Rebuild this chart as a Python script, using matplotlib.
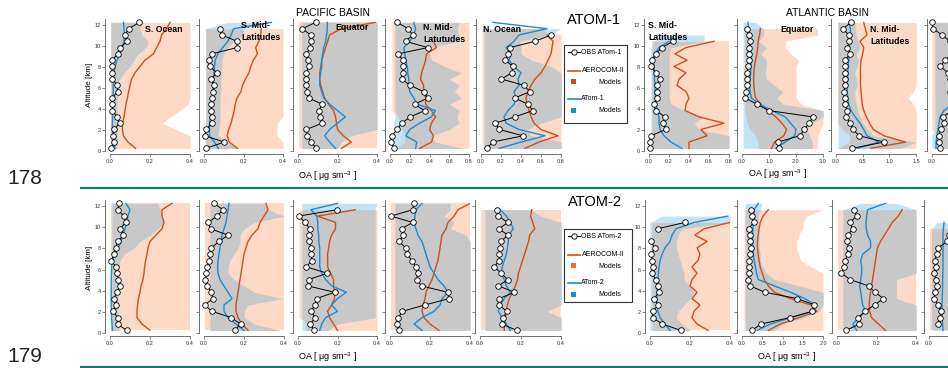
import matplotlib
matplotlib.use("Agg")
import matplotlib.pyplot as plt
from matplotlib.patches import Rectangle
from matplotlib.ticker import FormatStrFormatter
import numpy as np

plt.rcParams['font.family'] = ['Liberation Sans', 'DejaVu Sans']
plt.rcParams['mathtext.fontset'] = 'custom'
plt.rcParams['mathtext.rm'] = 'Liberation Sans'
plt.rcParams['mathtext.default'] = 'regular'

nan = np.nan

# altitude levels [km]
ALT = [0.25, 0.85, 1.45, 2.05, 2.65, 3.25, 3.85, 4.45, 5.05, 5.65, 6.25,
       6.85, 7.45, 8.05, 8.65, 9.25, 9.85, 10.45, 11.05, 11.65, 12.25]

# ---------------- ATom-1 (top row) ----------------
# Pacific, S. Ocean
p1_obs = [0.005, 0.02, 0.013, 0.02, 0.048, 0.035, 0.012, 0.012, 0.01, 0.038, 0.037,
          0.012, 0.01, 0.01, 0.012, 0.038, 0.05, 0.087, 0.075, 0.093, 0.147]
p1_aero = [0.128, 0.09, 0.067, 0.062, 0.063, 0.07, 0.075, 0.08, 0.087, 0.093, 0.1,
           0.108, 0.125, 0.15, 0.175, 0.217, 0.233, 0.25, 0.258, 0.283, 0.3]
p1_atom = [0.025, 0.02, 0.015, 0.012, 0.012, 0.013, 0.013, 0.014, 0.015, 0.016, 0.016,
           0.017, 0.02, 0.025, 0.035, 0.05, 0.062, 0.07, 0.072, 0.07, 0.068]
p1_aero_lo = 0.003
p1_aero_hi = [0.4, 0.4, 0.4, 0.33, 0.26, 0.3, 0.35, 0.39, 0.4, 0.4, 0.4,
              0.4, 0.4, 0.4, 0.4, 0.4, 0.4, 0.4, 0.4, 0.4, 0.4]
p1_atom_lo = 0.005
p1_atom_hi = [0.035, 0.035, 0.035, 0.035, 0.035, 0.035, 0.035, 0.035, 0.035, 0.04, 0.04,
              0.05, 0.07, 0.1, 0.12, 0.14, 0.18, 0.19, 0.16, 0.15, 0.16]

# Pacific, S. Mid-Latitudes
p2_obs = [0.008, 0.103, 0.003, 0.012, 0.04, 0.04, 0.037, 0.037, 0.04, 0.048, 0.053,
          0.033, 0.067, 0.028, 0.025, 0.04, 0.167, 0.167, 0.09, 0.082, nan]
p2_aero = [0.17, 0.128, 0.117, 0.125, 0.137, 0.145, 0.153, 0.158, 0.167, 0.187, 0.195,
           0.21, 0.228, 0.237, 0.25, 0.27, 0.262, 0.278, 0.287, 0.29, nan]
p2_atom = [0.073, 0.053, 0.028, 0.028, 0.028, 0.033, 0.037, 0.04, 0.04, 0.045, 0.045,
           0.048, 0.05, 0.053, 0.057, 0.07, 0.095, 0.12, 0.137, 0.15, 0.34]
p2_aero_lo = [0.008] * 20 + [nan]
p2_aero_hi = [0.4, 0.4, 0.37, 0.37, 0.37, 0.4, 0.4, 0.4, 0.4, 0.4, 0.4,
              0.4, 0.4, 0.4, 0.4, 0.4, 0.4, 0.4, 0.4, 0.4, nan]
p2_atom_lo = [0.01] * 20 + [0.12]
p2_atom_hi = [0.17, 0.12, 0.07, 0.075, 0.08, 0.08, 0.08, 0.08, 0.08, 0.085, 0.085,
              0.085, 0.085, 0.09, 0.09, 0.1, 0.12, 0.15, 0.2, 0.2, 0.34]

# Pacific, Equator
p3_obs = [0.092, 0.067, 0.047, 0.042, 0.123, 0.109, 0.106, 0.123, 0.054, 0.045, 0.042,
          0.042, 0.042, 0.055, 0.05, 0.042, 0.062, 0.064, 0.064, 0.022, 0.089]
p3_aero = [0.22, 0.27, 0.23, 0.2, 0.195, 0.19, 0.18, 0.155, 0.135, 0.125, 0.115,
           0.11, 0.11, 0.115, 0.12, 0.13, 0.14, 0.15, 0.16, 0.22, 0.39]
p3_atom = [0.19, 0.16, 0.135, 0.16, 0.2, 0.24, 0.2, 0.16, 0.13, 0.12, 0.11,
           0.11, 0.115, 0.12, 0.12, 0.125, 0.13, 0.14, 0.145, 0.148, 0.148]
p3_aero_lo = 0.003
p3_aero_hi = 0.4
p3_atom_lo = 0.02
p3_atom_hi = [0.2, 0.22, 0.27] + [0.4] * 18

# Pacific, N. Mid-Latitudes
p4_obs = [0.043, 0.01, 0.017, 0.073, 0.117, 0.207, 0.35, 0.25, 0.383, 0.34, 0.207,
          0.117, 0.13, 0.13, 0.13, 0.08, 0.383, 0.157, 0.23, 0.183, 0.073]
p4_aero = [0.3, 0.42, 0.44, 0.4, 0.42, 0.46, 0.42, 0.36, 0.36, 0.34, 0.34,
           0.31, 0.32, 0.34, 0.36, 0.37, 0.47, 0.44, nan, nan, nan]
p4_atom = [0.26, 0.27, 0.16, 0.2, 0.3, 0.42, 0.46, 0.28, 0.24, 0.2, 0.19,
           0.19, 0.18, 0.175, 0.16, 0.15, 0.14, 0.2, 0.24, 0.26, 0.24]
p4_aero_lo = [0.02, 0.15, 0.15, 0.12, 0.1, 0.08] + [0.02] * 15
p4_aero_hi = 0.8
p4_atom_lo = [0.05, 0.04, 0.04, 0.04, 0.04] + [0.05] * 16
p4_atom_hi = [0.75, 0.45, 0.42, 0.6, 0.7, 0.68, 0.7, 0.6, 0.72, 0.65, 0.7,
              0.6, 0.72, 0.55, 0.42, 0.4, 0.4, 0.7, 0.7, 0.68, 0.7]

# Pacific, N. Ocean
p5_obs = [0.06, 0.116, 0.42, 0.182, 0.142, 0.34, 0.519, 0.469, 0.337, 0.489, 0.43,
          0.205, 0.307, 0.321, 0.241, 0.274, 0.291, 0.539, 0.704, nan, nan]
p5_aero = [0.44, 0.58, 0.77, 0.6, 0.53, 0.5, 0.48, 0.46, 0.45, 0.47, 0.5,
           0.54, 0.6, 0.64, 0.67, 0.7, 0.71, 0.72, 0.66, nan, nan]
p5_atom = [0.18, 0.4, 0.64, 0.38, 0.25, 0.23, 0.27, 0.33, 0.35, 0.33, 0.38,
           0.37, 0.4, 0.33, 0.28, 0.3, 0.25, 0.33, 0.38, 0.66, 0.12]
p5_aero_lo = [0.01] * 20 + [nan]
p5_aero_hi = [0.8] * 19 + [0.6, nan]
p5_atom_lo = 0.03
p5_atom_hi = [0.8, 0.8, 0.5, 0.45, 0.6, 0.8, 0.8, 0.8, 0.8, 0.8, 0.8,
              0.8, 0.8, 0.7, 0.5, 0.4, 0.4, 0.38, 0.7, 0.8, nan]

# Atlantic, S. Mid-Latitudes
p6_obs = [0.005, 0.005, 0.02, 0.166, 0.14, 0.163, 0.065, 0.05, 0.08, 0.08, 0.08,
          0.105, 0.068, 0.015, 0.03, 0.065, 0.13, 0.24, nan, nan, nan]
p6_aero = [0.4, 0.4, 0.58, 0.52, 0.75, 0.5, 0.36, 0.37, 0.4, 0.37, 0.28,
           0.3, 0.37, 0.25, 0.38, 0.26, 0.37, 0.65, nan, nan, nan]
p6_atom = [0.33, 0.22, 0.15, 0.11, 0.1, 0.1, 0.085, 0.07, 0.065, 0.06, 0.06,
           0.055, 0.055, 0.05, 0.05, 0.06, 0.1, 0.2, nan, nan, nan]
p6_aero_lo = [0.03] * 18 + [nan] * 3
p6_aero_hi = [0.8] * 18 + [nan] * 3
p6_atom_lo = [0.0, 0.0, 0.0] + [0.02] * 14 + [0.05, 0.12, nan, nan]
p6_atom_hi = [0.8, 0.8, 0.8, 0.5, 0.45, 0.55, 0.35, 0.22, 0.2, 0.2, 0.2,
              0.2, 0.2, 0.2, 0.2, 0.2, 0.22, 0.55, 0.55, nan, nan]

# Atlantic, Equator
p7_obs = [1.36, 1.32, 2.14, 2.31, 2.49, 2.62, 0.99, 0.56, 0.12, 0.15, 0.185,
          0.185, 0.185, 0.22, 0.27, 0.25, 0.25, 0.31, 0.25, 0.185, nan]
p7_aero = [1.09, 1.2, 1.55, 1.65, 1.48, 1.25, 0.95, 0.7, 0.5, 0.46, 0.44,
           0.43, 0.44, 0.46, 0.5, 0.55, 0.58, 0.6, 0.65, 0.68, nan]
p7_atom = [1.25, 1.6, 1.95, 2.0, 1.8, 1.6, 1.1, 0.65, 0.35, 0.3, 0.28,
           0.3, 0.32, 0.33, 0.35, 0.35, 0.33, 0.3, 0.28, 0.25, 0.22]
p7_aero_lo = [0.6, 0.6, 0.5, 0.3, 0.2, 0.15] + [0.1] * 14 + [nan]
p7_aero_hi = [2.8, 2.8, 2.8, 2.9, 3.0, 3.0, 3.0, 2.2, 2.0, 2.0, 2.0,
              2.0, 2.0, 2.0, 2.1, 1.8, 1.6, 1.6, 2.8, 2.8, nan]
p7_atom_lo = 0.04
p7_atom_hi = [2.6, 2.6, 2.5, 2.4, 2.6, 3.0, 3.0, 1.5, 1.3, 1.5, 1.2,
              0.9, 0.85, 0.9, 0.9, 0.7, 0.9, 0.6, 0.8, 0.8, 0.5]

# Atlantic, N. Mid-Latitudes
p8_obs = [0.3, 0.9, 0.44, 0.31, 0.27, 0.19, 0.21, 0.175, 0.16, 0.156, 0.16,
          0.16, 0.175, 0.175, 0.16, 0.27, 0.21, 0.25, 0.24, 0.125, 0.29]
p8_aero = [0.65, 1.3, 0.9, 0.7, 0.63, 0.57, 0.52, 0.49, 0.48, 0.47, 0.46,
           0.46, 0.46, 0.46, 0.47, 0.5, 0.52, 0.45, 0.58, 0.55, 0.52]
p8_atom = [0.4, 0.8, 0.58, 0.52, 0.45, 0.36, 0.28, 0.24, 0.22, 0.21, 0.21,
           0.22, 0.22, 0.23, 0.24, 0.24, 0.25, 0.26, 0.27, 0.27, 0.24]
p8_aero_lo = [0.03, 0.25, 0.25, 0.12] + [0.03] * 17
p8_aero_hi = [1.5] * 7 + [1.45, 1.35, 1.45] + [1.5] * 11
p8_atom_lo = 0.04
p8_atom_hi = [1.2, 1.5, 0.7, 0.6, 0.5, 0.45, 0.4, 0.38, 0.35, 0.35, 0.4,
              0.38, 0.35, 0.4, 0.42, 0.38, 0.45, 0.42, 0.38, 0.36, 0.35]

# Atlantic, 4th region (cut at page edge)
p9_obs = [0.042, 0.037, 0.033, 0.045, 0.058, 0.055, 0.1, 0.12, 0.1, 0.09, 0.1,
          0.09, 0.08, 0.042, 0.065, 0.1, 0.1, 0.09, 0.05, 0.005, 0.0]
p9_aero = [0.22, 0.24, 0.25, 0.25, 0.24, 0.22, 0.2, 0.2, 0.19, 0.19, 0.2,
           0.2, 0.21, 0.22, 0.23, 0.24, 0.25, 0.26, 0.27, 0.28, 0.3]
p9_atom = [0.02, 0.02, 0.025, 0.03, 0.035, 0.04, 0.06, 0.1, 0.12, 0.12, 0.12,
           0.12, 0.12, 0.12, 0.12, 0.13, 0.13, 0.14, 0.14, 0.15, 0.15]
p9_aero_lo = [0.02, 0.02, 0.02] + [0.0] * 18
p9_aero_hi = 0.4
p9_atom_lo = [0.0, 0.0, 0.0] + [0.015] * 18
p9_atom_hi = 0.3

# ---------------- ATom-2 (bottom row) ----------------
q1_obs = [0.083, 0.038, 0.038, 0.017, 0.03, 0.02, 0.033, 0.05, 0.042, 0.033, 0.03,
          0.005, 0.022, 0.028, 0.038, 0.067, 0.05, 0.078, 0.07, 0.038, 0.047]
q1_aero = [0.2, 0.16, 0.135, 0.135, 0.138, 0.142, 0.15, 0.155, 0.165, 0.17, 0.173,
           0.178, 0.185, 0.19, 0.2, 0.23, 0.26, 0.27, 0.26, 0.26, 0.31]
q1_atom = [0.012, 0.01, 0.008, 0.007, 0.006, 0.006, 0.006, 0.006, 0.006, 0.007, 0.008,
           0.012, 0.025, 0.04, 0.055, 0.065, 0.075, 0.085, 0.09, 0.1, 0.08]
q1_aero_lo = 0.005
q1_aero_hi = 0.4
q1_atom_lo = 0.01
q1_atom_hi = [0.045, 0.045, 0.04, 0.04, 0.04, 0.04, 0.04, 0.04, 0.04, 0.04, 0.045,
              0.05, 0.07, 0.12, 0.15, 0.2, 0.24, 0.27, 0.26, 0.25, 0.24]

q2_obs = [0.153, 0.183, 0.137, 0.04, 0.003, 0.045, 0.037, 0.017, 0.007, 0.012, 0.017,
          0.025, 0.032, 0.037, 0.075, 0.12, 0.033, 0.02, 0.065, 0.095, 0.05]
q2_aero = [0.22, 0.19, 0.17, 0.16, 0.16, 0.165, 0.17, 0.175, 0.18, 0.185, 0.19,
           0.195, 0.2, 0.21, 0.22, 0.24, 0.27, 0.28, 0.3, 0.32, 0.31]
q2_atom = [0.2, 0.16, 0.12, 0.1, 0.1, 0.14, 0.12, 0.1, 0.08, 0.07, 0.068,
           0.07, 0.075, 0.08, 0.085, 0.09, 0.1, 0.11, 0.115, 0.12, 0.125]
q2_aero_lo = 0.005
q2_aero_hi = 0.4
q2_atom_lo = 0.03
q2_atom_hi = [0.38, 0.25, 0.2, 0.2, 0.22, 0.39, 0.25, 0.2, 0.15, 0.12, 0.12,
              0.13, 0.15, 0.17, 0.18, 0.18, 0.2, 0.25, 0.4, 0.32, 0.3]

q3_obs = [0.081, 0.062, 0.087, 0.067, 0.084, 0.094, 0.185, 0.05, 0.054, 0.148, 0.042,
          0.07, 0.067, 0.067, 0.054, 0.057, 0.059, 0.037, 0.003, 0.198, nan]
q3_aero = [0.2, 0.18, 0.16, 0.15, 0.17, 0.185, 0.185, 0.18, 0.18, 0.165, 0.15,
           0.15, 0.15, 0.155, 0.16, 0.17, 0.19, 0.19, 0.1, 0.29, nan]
q3_atom = [0.11, 0.12, 0.14, 0.2, 0.17, 0.2, 0.245, 0.17, 0.14, 0.12, 0.11,
           0.11, 0.11, 0.11, 0.105, 0.105, 0.1, 0.1, 0.095, 0.065, 0.2]
q3_aero_lo = [0.04, 0.04] + [0.005] * 18 + [nan]
q3_aero_hi = [0.4] * 20 + [nan]
q3_atom_lo = 0.02
q3_atom_hi = [0.15, 0.2] + [0.39] * 18 + [0.4]

q4_obs = [0.047, 0.033, 0.042, 0.062, 0.175, 0.295, 0.288, 0.158, 0.133, 0.138, 0.13,
          0.108, 0.087, 0.078, 0.045, 0.067, 0.058, 0.113, 0.005, 0.113, 0.12]
q4_aero = [0.245, 0.2, 0.17, 0.16, 0.165, 0.175, 0.18, 0.195, 0.21, 0.22, 0.23,
           0.24, 0.245, 0.25, 0.255, 0.26, 0.28, 0.29, 0.32, 0.34, 0.4]
q4_atom = [0.16, 0.12, 0.16, 0.22, 0.25, 0.26, 0.29, 0.27, 0.24, 0.22, 0.2,
           0.19, 0.18, 0.17, 0.16, 0.14, 0.13, 0.12, 0.125, 0.13, 0.16]
q4_aero_lo = 0.005
q4_aero_hi = 0.4
q4_atom_lo = 0.025
q4_atom_hi = [0.4] * 15 + [0.38, 0.3, 0.32, 0.27, 0.3, 0.3]

q5_obs = [0.181, 0.107, 0.115, 0.132, 0.094, 0.094, 0.17, 0.091, 0.137, 0.104, 0.071,
          0.094, 0.096, 0.099, 0.104, 0.137, 0.094, 0.137, 0.091, 0.082, nan]
q5_aero = [0.12, 0.12, 0.125, 0.13, 0.135, 0.145, 0.16, 0.175, 0.185, 0.19, 0.2,
           0.21, 0.22, 0.23, 0.24, 0.245, 0.27, 0.26, 0.25, 0.255, nan]
q5_atom = [0.15, 0.13, 0.11, 0.09, 0.1, 0.12, 0.15, 0.13, 0.12, 0.105, 0.11,
           0.12, 0.13, 0.135, 0.14, 0.14, 0.165, 0.15, 0.13, 0.1, nan]
q5_aero_lo = [0.005] * 20 + [nan]
q5_aero_hi = [0.4] * 20 + [nan]
q5_atom_lo = 0.025
q5_atom_hi = [0.4, 0.4, 0.4, 0.33] + [0.4] * 14 + [0.3, 0.25, nan]

q6_obs = [0.153, 0.062, 0.013, 0.013, 0.042, 0.02, 0.045, 0.038, 0.028, 0.01, 0.013,
          0.012, 0.005, 0.025, 0.003, nan, 0.038, 0.175, nan, nan, nan]
q6_aero = [0.29, 0.235, 0.21, 0.22, 0.25, 0.21, 0.235, 0.2, 0.21, 0.235, 0.21,
           0.24, 0.25, 0.235, 0.285, 0.225, 0.27, 0.4, nan, nan, nan]
q6_atom = [0.1, 0.075, 0.05, 0.04, 0.035, 0.034, 0.035, 0.038, 0.04, 0.042, 0.045,
           0.05, 0.06, 0.075, 0.1, 0.11, 0.13, 0.22, 0.39, nan, nan]
q6_aero_lo = [0.01] * 18 + [nan] * 3
q6_aero_hi = [0.4] * 18 + [nan] * 3
q6_atom_lo = [0.0] * 18 + [0.06, nan, nan]
q6_atom_hi = [0.2, 0.16, 0.13, 0.14, 0.17, 0.2, 0.22, 0.2, 0.17, 0.17, 0.16,
              0.15, 0.14, 0.13, 0.13, 0.14, 0.16, 0.4, 0.4, nan, nan]

q7_obs = [0.247, 0.47, 1.18, 1.74, 1.79, 1.37, 0.56, 0.206, 0.148, 0.181, 0.181,
          0.181, 0.206, 0.23, 0.206, 0.189, 0.165, 0.288, 0.247, 0.23, nan]
q7_aero = [0.65, 0.95, 1.4, 1.85, 1.7, 1.2, 0.8, 0.65, 0.55, 0.5, 0.45,
           0.42, 0.4, 0.38, 0.38, 0.4, 0.42, 0.45, 0.52, 0.65, nan]
q7_atom = [0.38, 0.7, 1.2, 1.75, 1.82, 1.55, 1.2, 0.8, 0.4, 0.36, 0.33,
           0.3, 0.28, 0.27, 0.26, 0.26, 0.27, 0.28, 0.3, 0.3, 0.4]
q7_aero_lo = [0.05] * 20 + [nan]
q7_aero_hi = [2.0] * 10 + [1.7, 1.45, 1.4, 1.35, 1.35, 1.4, 1.5, 1.5, 1.6, 2.0, nan]
q7_atom_lo = 0.08
q7_atom_hi = [0.8, 1.0, 1.5, 1.9, 2.0, 2.0, 2.0, 1.4, 0.8, 0.6, 0.5,
              0.45, 0.45, 0.42, 0.42, 0.42, 0.42, 0.4, 0.4, 0.45, 0.5]

q8_obs = [0.047, 0.113, 0.106, 0.143, 0.19, 0.235, 0.193, 0.16, 0.067, 0.022, 0.037,
          0.042, 0.054, 0.059, 0.05, 0.055, 0.079, 0.064, 0.1, 0.087, nan]
q8_aero = [0.245, 0.21, 0.175, 0.165, 0.163, 0.165, 0.17, 0.175, 0.18, 0.185, 0.19,
           0.195, 0.2, 0.205, 0.22, 0.24, 0.26, 0.28, 0.31, 0.33, nan]
q8_atom = [0.1, 0.08, 0.11, 0.145, 0.13, 0.125, 0.12, 0.115, 0.12, 0.125, 0.125,
           0.12, 0.13, 0.17, 0.17, 0.155, 0.148, 0.147, 0.15, 0.155, 0.245]
q8_aero_lo = [0.005] * 20 + [nan]
q8_aero_hi = [0.4] * 20 + [nan]
q8_atom_lo = [0.03] * 20 + [0.12]
q8_atom_hi = [0.4] * 5 + [0.3] * 4 + [0.4] * 11 + [0.3]

q9_obs = [nan, 0.043, 0.055, 0.058, 0.047, 0.027, 0.03, 0.04, 0.037, 0.027, 0.035,
          0.03, 0.038, 0.047, 0.09, 0.1, nan, nan, nan, nan, nan]
q9_aero = [0.2, 0.19, 0.18, 0.18, 0.19, 0.2, 0.2, 0.21, 0.21, 0.22, 0.22,
           0.23, 0.23, 0.24, 0.25, 0.26, 0.27, nan, nan, nan, nan]
q9_atom = [0.07, 0.068, 0.066, 0.065, 0.065, 0.066, 0.067, 0.068, 0.068, 0.069, 0.07,
           0.07, 0.07, 0.07, 0.07, 0.07, 0.072, 0.075, nan, nan, nan]
q9_aero_lo = [0.005] * 17 + [nan] * 4
q9_aero_hi = [0.4] * 17 + [nan] * 4
q9_atom_lo = [0.015] * 17 + [0.04, nan, nan, nan]
q9_atom_hi = [0.3] * 17 + [0.4, nan, nan, nan]

PINK = '#fdd9c6'
GRAY = '#c8c8c8'
LBLUE = '#c3e2f4'
ORANGE = '#cf4f18'
BLUE = '#1d8ad2'
TEAL = '#0e7d78'
SPINE = '#707070'

W, H = 948, 368
YMAX = 12.6
alt = np.array(ALT)

fig = plt.figure(figsize=(W / 100, H / 100), dpi=100)


def panel(x0, x1, xmax, row, xticks, ylabels, obs, aero, atom,
          aero_lo, aero_hi, atom_lo, atom_hi):
    y0, k = (151, 10.5) if row == 0 else (333, 10.58)
    ax = fig.add_axes([x0 / W, 1 - y0 / H, (x1 - x0) / W, YMAX * k / H])
    ax.set_xlim(0, xmax)
    ax.set_ylim(0, YMAX)
    ax.patch.set_alpha(0)

    a_lo = np.broadcast_to(np.asarray(aero_lo, float), alt.shape)
    a_hi = np.broadcast_to(np.asarray(aero_hi, float), alt.shape)
    b_lo = np.broadcast_to(np.asarray(atom_lo, float), alt.shape)
    b_hi = np.broadcast_to(np.asarray(atom_hi, float), alt.shape)
    ax.fill_betweenx(alt, a_lo, a_hi, color=PINK, lw=0)
    ax.fill_betweenx(alt, b_lo, b_hi, color=LBLUE, lw=0)
    lo = np.maximum(a_lo, b_lo)
    hi = np.minimum(a_hi, b_hi)
    ax.fill_betweenx(alt, lo, hi, where=hi > lo, interpolate=True, color=GRAY, lw=0)

    ax.plot(aero, alt, color=ORANGE, lw=1.0)
    ax.plot(atom, alt, color=BLUE, lw=1.0)
    ax.plot(obs, alt, color='black', lw=0.7, marker='o', ms=4,
            mfc='white', mec='black', mew=0.6, clip_on=False)

    for s in ('top', 'right'):
        ax.spines[s].set_visible(False)
    for s in ('left', 'bottom'):
        ax.spines[s].set_color(SPINE)
        ax.spines[s].set_linewidth(0.7)
    ax.spines['left'].set_position(('outward', 3.5))
    ax.spines['bottom'].set_position(('outward', 2.5))
    ax.set_yticks([0, 2, 4, 6, 8, 10, 12])
    ax.set_xticks(xticks)
    ax.xaxis.set_major_formatter(FormatStrFormatter('%.1f'))
    ax.tick_params(direction='out', length=2, width=0.6, color=SPINE,
                   labelsize=4, pad=1.2, labelcolor='#333333')
    if not ylabels:
        ax.set_yticklabels([])
    return ax


t3 = [0, 0.2, 0.4]
t5 = [0, 0.2, 0.4, 0.6, 0.8]

# top row
panel(110, 190, 0.4, 0, t3, True, p1_obs, p1_aero, p1_atom, p1_aero_lo, p1_aero_hi, p1_atom_lo, p1_atom_hi)
panel(204, 283, 0.4, 0, t3, False, p2_obs, p2_aero, p2_atom, p2_aero_lo, p2_aero_hi, p2_atom_lo, p2_atom_hi)
panel(298, 377, 0.4, 0, t3, False, p3_obs, p3_aero, p3_atom, p3_aero_lo, p3_aero_hi, p3_atom_lo, p3_atom_hi)
panel(390, 469, 0.8, 0, t5, False, p4_obs, p4_aero, p4_atom, p4_aero_lo, p4_aero_hi, p4_atom_lo, p4_atom_hi)
panel(481, 561, 0.8, 0, t5, False, p5_obs, p5_aero, p5_atom, p5_aero_lo, p5_aero_hi, p5_atom_lo, p5_atom_hi)
panel(649, 729, 0.8, 0, t5, True, p6_obs, p6_aero, p6_atom, p6_aero_lo, p6_aero_hi, p6_atom_lo, p6_atom_hi)
panel(742, 823, 3.0, 0, [0, 1, 2, 3], False, p7_obs, p7_aero, p7_atom, p7_aero_lo, p7_aero_hi, p7_atom_lo, p7_atom_hi)
panel(836, 916, 1.5, 0, [0, 0.5, 1.0, 1.5], False, p8_obs, p8_aero, p8_atom, p8_aero_lo, p8_aero_hi, p8_atom_lo, p8_atom_hi)
panel(932, 1012, 0.4, 0, [0], False, p9_obs, p9_aero, p9_atom, p9_aero_lo, p9_aero_hi, p9_atom_lo, p9_atom_hi)

# bottom row
panel(110, 190, 0.4, 1, t3, True, q1_obs, q1_aero, q1_atom, q1_aero_lo, q1_aero_hi, q1_atom_lo, q1_atom_hi)
panel(204, 284, 0.4, 1, t3, False, q2_obs, q2_aero, q2_atom, q2_aero_lo, q2_aero_hi, q2_atom_lo, q2_atom_hi)
panel(298, 377, 0.4, 1, t3, False, q3_obs, q3_aero, q3_atom, q3_aero_lo, q3_aero_hi, q3_atom_lo, q3_atom_hi)
panel(390, 470, 0.4, 1, t3, False, q4_obs, q4_aero, q4_atom, q4_aero_lo, q4_aero_hi, q4_atom_lo, q4_atom_hi)
panel(480, 561, 0.4, 1, t3, False, q5_obs, q5_aero, q5_atom, q5_aero_lo, q5_aero_hi, q5_atom_lo, q5_atom_hi)
panel(650, 730, 0.4, 1, t3, True, q6_obs, q6_aero, q6_atom, q6_aero_lo, q6_aero_hi, q6_atom_lo, q6_atom_hi)
panel(742, 823, 2.0, 1, [0, 0.5, 1.0, 1.5, 2.0], False, q7_obs, q7_aero, q7_atom, q7_aero_lo, q7_aero_hi, q7_atom_lo, q7_atom_hi)
panel(837, 916, 0.4, 1, t3, False, q8_obs, q8_aero, q8_atom, q8_aero_lo, q8_aero_hi, q8_atom_lo, q8_atom_hi)
panel(929, 1009, 0.4, 1, [0], False, q9_obs, q9_aero, q9_atom, q9_aero_lo, q9_aero_hi, q9_atom_lo, q9_atom_hi)

# overlay in pixel coordinates for page furniture, titles and legends
ov = fig.add_axes([0, 0, 1, 1])
ov.set_xlim(0, W)
ov.set_ylim(H, 0)
ov.axis('off')

ov.plot([80, W], [188, 188], color=TEAL, lw=1.6, solid_capstyle='butt')
ov.plot([80, W], [366.5, 366.5], color=TEAL, lw=1.6, solid_capstyle='butt')
ov.text(25, 178, '178', fontsize=15, ha='center', va='center', color='#222222')
ov.text(25, 357, '179', fontsize=15, ha='center', va='center', color='#222222')

ov.text(333, 13, 'PACIFIC BASIN', fontsize=7.5, ha='center', va='center')
ov.text(828, 13, 'ATLANTIC BASIN', fontsize=7.5, ha='center', va='center')
ov.text(594, 20, 'ATOM-1', fontsize=10.5, ha='center', va='center')
ov.text(595, 202, 'ATOM-2', fontsize=10.5, ha='center', va='center')

oa = 'OA [ μg sm$^{-3}$ ]'
for x, y in [(328, 176), (778, 174), (328, 357), (787, 357)]:
    ov.text(x, y, oa, fontsize=6.5, ha='center', va='center')
for y in (85, 268):
    ov.text(90, y, 'Altitude [km]', fontsize=5.8, rotation=90, ha='center', va='center')

titles = [
    (145, 30, 'S. Ocean'), (241, 25, 'S. Mid-'), (241, 38, 'Latitudes'),
    (335, 28, 'Equator'), (423, 27, 'N. Mid-'), (423, 39, 'Latutudes'),
    (483, 30, 'N. Ocean'), (648, 25, 'S. Mid-'), (648, 38, 'Latitudes'),
    (780, 30, 'Equator'), (870, 30, 'N. Mid-'), (870, 42, 'Latitudes'),
]
for x, y, s in titles:
    ov.text(x, y, s, fontsize=6.3, fontweight='bold', ha='left', va='center')


def legend_box(x, y, w, h, campaign, sq_orange):
    ov.add_patch(Rectangle((x, y), w, h, fill=False, ec='#333333', lw=0.8))
    yy = y + 7
    ov.plot([x + 4.5, x + 16.5], [yy, yy], color='black', lw=0.8)
    ov.plot([x + 10.5], [yy], 'o', ms=3.8, mfc='white', mec='black', mew=0.6)
    ov.text(x + 17.5, yy, 'OBS ' + campaign, fontsize=5, va='center')
    yy = y + 26
    ov.plot([x + 4.5, x + 16.5], [yy, yy], color=ORANGE, lw=1.2)
    ov.text(x + 17.5, yy, 'AEROCOM-II', fontsize=5, va='center')
    ov.add_patch(Rectangle((x + 7.5, y + 34), 5, 5, color=sq_orange, lw=0))
    ov.text(x + 34.5, y + 37, 'Models', fontsize=5, va='center')
    yy = y + 54
    ov.plot([x + 4.5, x + 16.5], [yy, yy], color=BLUE, lw=1.2)
    ov.text(x + 17, yy, campaign, fontsize=5, va='center')
    ov.add_patch(Rectangle((x + 7.5, y + 63), 5, 5, color='#1a8fd6', lw=0))
    ov.text(x + 34.5, y + 66, 'Models', fontsize=5, va='center')


legend_box(564, 45, 63, 78, 'ATom-1', '#cc4a14')
legend_box(564, 229, 68, 73, 'ATom-2', '#ff6a1a')

fig.savefig('out.png', dpi=100)
